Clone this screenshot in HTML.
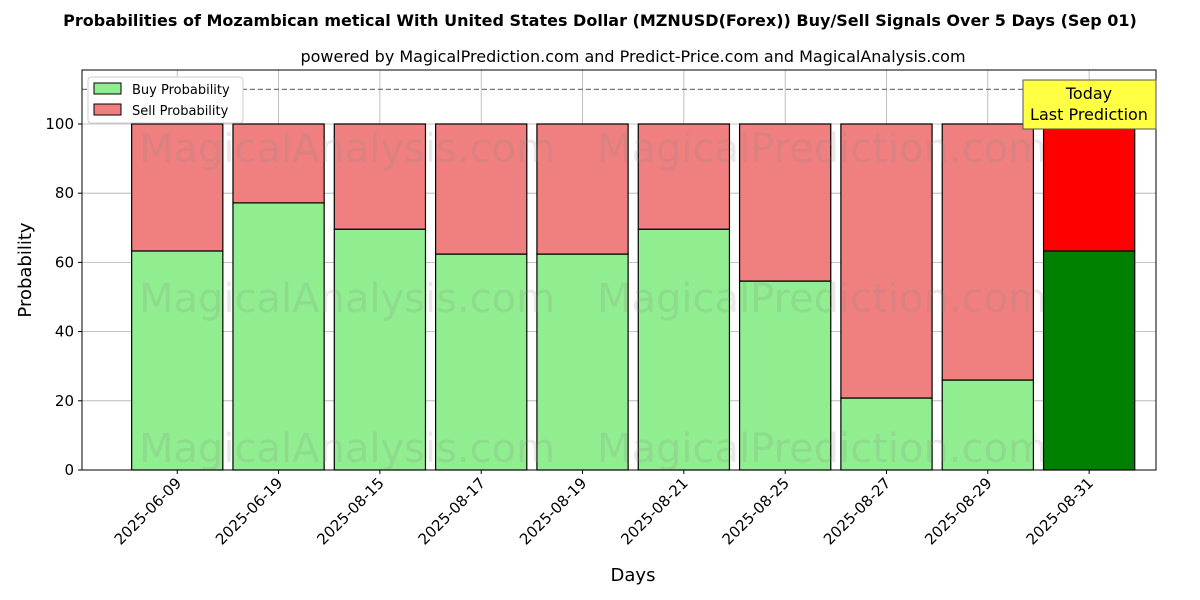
<!DOCTYPE html>
<html><head><meta charset="utf-8"><style>
html,body{margin:0;padding:0;background:#fff;}
svg{display:block;font-family:"DejaVu Sans","Liberation Sans",sans-serif;}
</style></head><body>
<svg id="chart" width="1200" height="600" xmlns="http://www.w3.org/2000/svg">
<text x="600" y="26" text-anchor="middle" font-size="16" font-weight="bold">Probabilities of Mozambican metical With United States Dollar (MZNUSD(Forex)) Buy/Sell Signals Over 5 Days (Sep 01)</text>
<text x="633" y="62" text-anchor="middle" font-size="16">powered by MagicalPrediction.com and Predict-Price.com and MagicalAnalysis.com</text>
<g id="grid"></g>
<g id="bars"></g>
<g id="wm" font-size="40" fill="#888" opacity="0.18">
<text x="347" y="162" text-anchor="middle">MagicalAnalysis.com</text>
<text x="822" y="162" text-anchor="middle">MagicalPrediction.com</text>
<text x="347" y="312" text-anchor="middle">MagicalAnalysis.com</text>
<text x="822" y="312" text-anchor="middle">MagicalPrediction.com</text>
<text x="347" y="462" text-anchor="middle">MagicalAnalysis.com</text>
<text x="822" y="462" text-anchor="middle">MagicalPrediction.com</text>
</g>
<line x1="82" x2="1156" y1="89.4" y2="89.4" stroke="#777" stroke-width="1.2" stroke-dasharray="5,3"/>
<rect x="82" y="70" width="1074" height="400" fill="none" stroke="#000" stroke-width="1"/>
<g id="axes"></g>
<text x="633" y="581" text-anchor="middle" font-size="18">Days</text>
<text transform="translate(31,270) rotate(-90)" text-anchor="middle" font-size="18">Probability</text>
<g>
<rect x="88" y="77" width="155" height="46" fill="#fff" stroke="#ccc" rx="3"/>
<rect x="94" y="83" width="27" height="11" fill="#90ee90" stroke="#000"/>
<text x="132" y="94" font-size="13">Buy Probability</text>
<rect x="94" y="104" width="27" height="11" fill="#f08080" stroke="#000"/>
<text x="132" y="115" font-size="13">Sell Probability</text>
</g>
<g>
<rect x="1023" y="80" width="133" height="49" fill="#ffff44" stroke="#555"/>
<text x="1089" y="99" text-anchor="middle" font-size="16">Today</text>
<text x="1089" y="120" text-anchor="middle" font-size="16">Last Prediction</text>
</g>
</svg>
<script>
const categories=["2025-06-09","2025-06-19","2025-08-15","2025-08-17","2025-08-19","2025-08-21","2025-08-25","2025-08-27","2025-08-29","2025-08-31"];
const buyValues=[63.3,77.2,69.6,62.4,62.4,69.6,54.6,20.8,26.0,63.3];
const sellValues=[36.7,22.8,30.4,37.6,37.6,30.4,45.4,79.2,74.0,36.7];
const yTicks=[0,20,40,60,80,100];
const NS="http://www.w3.org/2000/svg";
const X0=82,X1=1156,Y0=470,Y1=70,xMin=-0.94,xMax=9.66,yMax=115.6;
function xs(i){return X0+(i-xMin)/(xMax-xMin)*(X1-X0);}
function ys(v){return Y0-v/yMax*(Y0-Y1);}
const bw=0.9/(xMax-xMin)*(X1-X0);
function mk(tag,attrs,parent){const e=document.createElementNS(NS,tag);for(const k in attrs)e.setAttribute(k,attrs[k]);parent.appendChild(e);return e;}
const grid=document.getElementById('grid'),bars=document.getElementById('bars'),axes=document.getElementById('axes');
yTicks.forEach(t=>{
  const l=mk('line',{x1:X0,x2:X1,y1:ys(t),y2:ys(t),stroke:'#b0b0b0','stroke-width':0.8},grid);
  
  
  const tk=mk('line',{x1:X0-4,x2:X0,y1:ys(t),y2:ys(t),stroke:'#000'},axes);
  
  
  const tx=mk('text',{x:X0-8,y:ys(t)+5,'text-anchor':'end','font-size':15},axes);
  tx.textContent=t;
  
  
});
categories.forEach((c,i)=>{
  const cx=xs(i);
  const g=mk('line',{x1:cx,x2:cx,y1:Y1,y2:Y0,stroke:'#b0b0b0','stroke-width':0.8},grid);
  
  
  const last=i===categories.length-1;
  const b=mk('rect',{x:cx-bw/2,y:ys(buyValues[i]),width:bw,height:ys(0)-ys(buyValues[i]),fill:last?'#008000':'#90ee90',stroke:'#000','stroke-width':1.2},bars);
  
  
  const s=mk('rect',{x:cx-bw/2,y:ys(buyValues[i]+sellValues[i]),width:bw,height:ys(buyValues[i])-ys(buyValues[i]+sellValues[i]),fill:last?'#ff0000':'#f08080',stroke:'#000','stroke-width':1.2},bars);
  
  
  const tk=mk('line',{x1:cx,x2:cx,y1:Y0,y2:Y0+4,stroke:'#000'},axes);
  
  
  const tx=mk('text',{x:cx+5,y:Y0+14,'text-anchor':'end','font-size':15,transform:`rotate(-45 ${cx+5} ${Y0+14})`},axes);
  tx.textContent=c;
  
  
});
</script>
</body></html>
